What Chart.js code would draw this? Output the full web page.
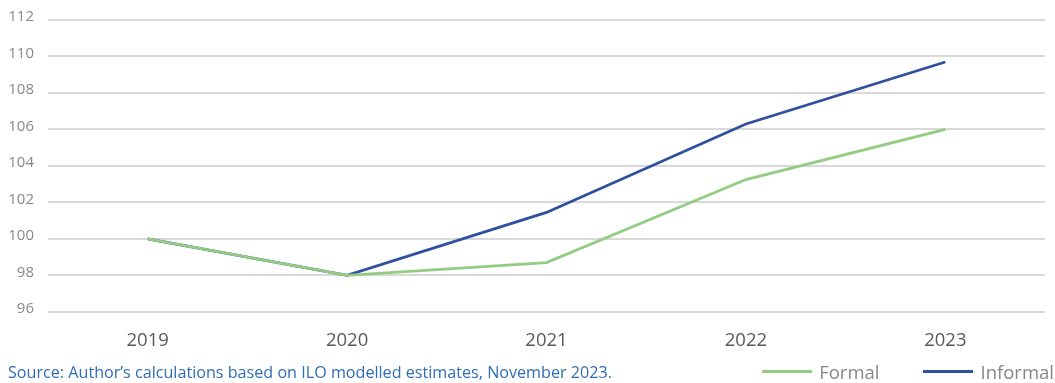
<!DOCTYPE html>
<html><head><meta charset="utf-8">
<script src="https://cdn.jsdelivr.net/npm/chart.js@4"></script>
<style>
html,body{margin:0;padding:0;background:#fff;}
#wrap{position:relative;width:1055px;height:383px;}
#src{position:absolute;left:8px;top:361px;font-family:"Open Sans";font-size:16.15px;color:#2f6db5;white-space:nowrap;}
#leg{position:absolute;right:1px;top:359px;display:flex;align-items:center;font-family:"Open Sans";font-size:18.5px;color:#878787;white-space:nowrap;}
#leg .sw{display:inline-block;width:50px;height:3px;margin-right:7px;}
#leg .item{display:flex;align-items:center;}
</style></head><body>
<div id="wrap"><canvas id="c" width="1055" height="383"></canvas>
<div id="src">Source: Author’s calculations based on ILO modelled estimates, November 2023.</div>
<div id="leg"></div></div>
<script>
const categories = ["2019","2020","2021","2022","2023"];
const formal = [100, 98, 98.7, 103.25, 106.0];
const informal = [100, 98, 101.45, 106.3, 109.7];
const yTicks = [96,98,100,102,104,106,108,110,112];
const seriesNames = ["Formal","Informal"];
const seriesColors = ["#92cc82","#2f4f9f"];

const chart = new Chart(document.getElementById('c'), {
  type:'line',
  data:{labels:categories, datasets:[
    {label:seriesNames[0], data:formal, borderColor:seriesColors[0], backgroundColor:seriesColors[0], borderWidth:2.75, pointRadius:0, tension:0},
    {label:seriesNames[1], data:informal, borderColor:seriesColors[1], backgroundColor:seriesColors[1], borderWidth:2.75, pointRadius:0, tension:0}
  ]},
  options:{
    responsive:false, animation:false,
    layout:{padding:{top:20,right:10,left:0,bottom:21}},
    plugins:{legend:{display:false}, tooltip:{enabled:false}},
    scales:{
      x:{offset:true, grid:{display:false}, border:{display:false}, ticks:{font:{family:'Open Sans', size:18.5}, color:'#595959', padding:10}},
      y:{min:96, max:112, afterBuildTicks:(s)=>{s.ticks=yTicks.map(v=>({value:v}));},
         grid:{color:'#d9d9d9', lineWidth:2, drawTicks:false}, border:{display:false},
         ticks:{font:{family:'Open Sans', size:15, lineHeight:0.5}, color:'#8a8a8a', padding:14, labelOffset:-3},
         afterFit:(s)=>{s.width=48;}}
    }
  }
});
const leg = document.getElementById('leg');
chart.data.datasets.forEach((d,i)=>{
  const it=document.createElement('span'); it.className='item';
  if(i>0) it.style.marginLeft='44px';
  const sw=document.createElement('span'); sw.className='sw'; sw.style.background=d.borderColor;
  const tx=document.createElement('span'); tx.textContent=d.label;
  it.appendChild(sw); it.appendChild(tx); leg.appendChild(it);
});
</script></body></html>
